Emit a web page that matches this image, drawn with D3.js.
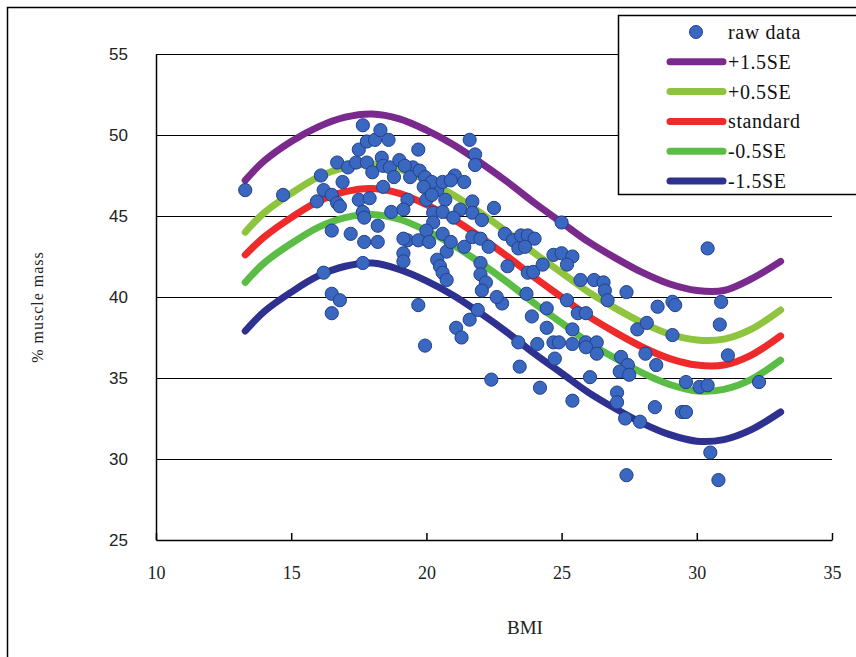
<!DOCTYPE html>
<html>
<head>
<meta charset="utf-8">
<script src="https://cdn.jsdelivr.net/npm/d3@7.9.0/dist/d3.min.js"></script>
<style>
  html, body { margin: 0; padding: 0; background: #fff; }
  svg { display: block; }
</style>
</head>
<body>
<svg id="chart" width="856" height="657"></svg>
<script>
// fitted curves at these BMI values
const curveBmi = [13.3, 14, 15, 16, 17, 18, 19, 20, 21, 22, 23, 24, 25, 26, 27, 28, 29, 30, 31, 32, 33.1];
const plus15 = [47.2, 48.4, 49.6, 50.5, 51.1, 51.3, 51.0, 50.3, 49.4, 48.3, 47.1, 45.8, 44.6, 43.4, 42.4, 41.5, 40.8, 40.4, 40.4, 41.1, 42.2];
const plus05 = [44.0, 45.2, 46.4, 47.4, 48.0, 48.2, 47.9, 47.2, 46.3, 45.2, 44.0, 42.7, 41.5, 40.3, 39.3, 38.4, 37.7, 37.35, 37.4, 38.0, 39.2];
const standard = [42.6, 43.7, 44.9, 45.9, 46.5, 46.7, 46.4, 45.7, 44.8, 43.7, 42.5, 41.2, 40.0, 38.8, 37.8, 36.9, 36.2, 35.8, 35.8, 36.4, 37.6];
const minus05 = [40.9, 42.1, 43.3, 44.3, 44.9, 45.1, 44.8, 44.1, 43.2, 42.1, 40.9, 39.6, 38.4, 37.2, 36.2, 35.3, 34.6, 34.2, 34.3, 34.9, 36.1];
const minus15 = [37.9, 39.1, 40.3, 41.3, 41.9, 42.1, 41.7, 41.0, 40.1, 39.0, 37.8, 36.5, 35.3, 34.1, 33.1, 32.2, 31.5, 31.1, 31.2, 31.8, 32.9];

// raw data: [BMI, % muscle mass]
const rawData = [
  [13.3, 46.6], [14.7, 46.3], [16.1, 47.5], [15.95, 45.9], [16.2, 46.6], [16.5, 44.1], [16.5, 46.3],
  [16.7, 45.8], [16.8, 45.6], [16.7, 48.3], [16.9, 47.1], [17.1, 48.0], [17.2, 43.9], [17.4, 48.3],
  [17.5, 46.0], [17.5, 49.1], [17.65, 50.6], [17.65, 45.25], [17.7, 44.9], [17.65, 42.1], [17.7, 43.4],
  [17.8, 49.6], [17.8, 48.3], [17.9, 46.1], [18.0, 47.7], [18.2, 43.4], [18.2, 44.4], [18.1, 49.7],
  [18.3, 50.3], [18.35, 48.6], [18.4, 46.8], [18.4, 48.1], [18.6, 49.7], [18.65, 48.0], [18.7, 45.25],
  [18.8, 47.4], [16.5, 40.2], [16.8, 39.8], [16.5, 39.0], [16.2, 41.5],
  [19.5, 48.0], [20.0, 46.0], [20.4, 46.6], [20.7, 46.0], [19.3, 43.5], [20.25, 45.2], [19.0, 48.45],
  [21.6, 49.7], [19.7, 49.1], [21.8, 48.8], [21.8, 48.15], [19.2, 48.1], [19.4, 47.4], [19.75, 47.8],
  [19.95, 47.4], [20.2, 47.1], [19.9, 46.8], [20.6, 47.1], [21.05, 47.5], [21.4, 47.1], [20.9, 47.2],
  [20.2, 46.3], [21.7, 45.9], [21.25, 45.4], [22.5, 45.5], [21.7, 45.2], [20.6, 45.25], [21.0, 44.9],
  [22.05, 44.75], [19.3, 46.0], [19.15, 45.4], [20.25, 44.6], [20.0, 44.1], [20.6, 43.9], [19.7, 43.5],
  [19.15, 43.6], [20.1, 43.4], [20.75, 42.8], [20.9, 43.4], [21.4, 43.1], [21.7, 43.7], [22.0, 43.6],
  [22.3, 43.1], [22.9, 43.9], [23.2, 43.5], [23.5, 43.8], [23.75, 43.8], [24.0, 43.6], [23.4, 43.0],
  [23.65, 43.1], [19.15, 42.7], [19.15, 42.2], [20.4, 42.3], [20.5, 41.9], [20.6, 41.5], [20.75, 41.05],
  [22.0, 42.1], [22.0, 41.4], [22.2, 40.9], [22.05, 40.4], [23.0, 41.9], [23.75, 41.5], [23.95, 41.55],
  [24.3, 42.0], [24.7, 42.6], [25.0, 42.7], [25.4, 42.5], [25.2, 42.0], [25.0, 44.6], [25.7, 41.05],
  [26.2, 41.05], [26.55, 40.9], [26.6, 40.4], [26.7, 39.8], [27.4, 40.3], [23.7, 40.2], [25.2, 39.8],
  [25.6, 39.0], [25.9, 39.0], [22.8, 39.6], [22.6, 40.0], [24.45, 39.3], [23.9, 38.8], [19.7, 39.5],
  [21.9, 39.2], [21.6, 38.6], [21.1, 38.1], [21.3, 37.5], [19.95, 37.0], [24.45, 38.1], [25.4, 38.0],
  [25.9, 37.2], [26.3, 37.2], [27.8, 38.0], [23.4, 37.2], [24.1, 37.1], [24.7, 37.2], [24.9, 37.2],
  [25.4, 37.1], [25.9, 36.9],
  [30.4, 43.0], [26.3, 36.5], [24.75, 36.2], [26.05, 35.05], [25.4, 33.6], [27.05, 34.1], [27.05, 33.5],
  [27.2, 36.3], [27.45, 35.8], [27.15, 35.4], [27.5, 35.2], [27.35, 32.5], [27.9, 32.3], [27.4, 29.0],
  [28.15, 38.4], [28.1, 36.5], [28.5, 35.8], [28.55, 39.4], [29.1, 39.7], [29.2, 39.5], [29.1, 37.65],
  [28.45, 33.2], [29.6, 34.75], [30.1, 34.45], [30.4, 34.55], [29.45, 32.9], [29.6, 32.9], [30.5, 30.4],
  [30.8, 28.7], [30.9, 39.7], [30.85, 38.3], [31.15, 36.4], [32.3, 34.75],
  [22.4, 34.9], [24.2, 34.4], [23.45, 35.7]
];

const xTicks = [10, 15, 20, 25, 30, 35];
const yTicks = [25, 30, 35, 40, 45, 50, 55];

const seriesNames = ['+1.5SE', '+0.5SE', 'standard', '-0.5SE', '-1.5SE'];
const seriesValues = [plus15, plus05, standard, minus05, minus15];
const seriesColors = ['#7a2a8c', '#8fc43f', '#ee2a2a', '#5bbd45', '#2e3190'];

const svg = d3.select('#chart');

const x = d3.scaleLinear().domain([10, 35]).range([156, 832]);
const y = d3.scaleLinear().domain([25, 55]).range([540, 54]);

// outer chart frame (runs off the right and bottom of the picture)
svg.append('rect')
  .attr('x', 7.5).attr('y', 7.5)
  .attr('width', 870).attr('height', 670)
  .attr('fill', 'none').attr('stroke', '#000').attr('stroke-width', 1.5);

// gridlines
svg.append('g')
  .attr('shape-rendering', 'crispEdges')
  .selectAll('line')
  .data(yTicks.filter((t) => t > 25))
  .join('line')
  .attr('x1', x(10)).attr('x2', x(35))
  .attr('y1', (d) => Math.round(y(d)) + 0.5).attr('y2', (d) => Math.round(y(d)) + 0.5)
  .attr('stroke', '#000').attr('stroke-width', 1);

// y axis: line only, labels to the left
const yAxis = svg.append('g')
  .attr('transform', `translate(${x(10)},0)`)
  .call(d3.axisLeft(y).tickValues(yTicks).tickSize(0).tickPadding(28));
yAxis.select('.domain').attr('stroke', '#000').attr('stroke-width', 1.5);
yAxis.selectAll('text')
  .attr('font-family', '"Liberation Sans", Arial, sans-serif')
  .attr('font-size', 17)
  .attr('fill', '#222');

// x axis: ticks point up into the plot
const xAxis = svg.append('g')
  .attr('transform', `translate(0,${y(25)})`)
  .call(d3.axisBottom(x).tickValues(xTicks).tickSizeInner(-7).tickSizeOuter(0).tickPadding(26));
xAxis.select('.domain').attr('stroke', '#000').attr('stroke-width', 1.5);
xAxis.selectAll('.tick line').attr('stroke', '#000').attr('stroke-width', 1.5);
xAxis.selectAll('text')
  .attr('font-family', '"Liberation Serif", "Times New Roman", serif')
  .attr('font-size', 18)
  .attr('fill', '#222');

// axis titles
svg.append('text')
  .attr('x', 525).attr('y', 634)
  .attr('text-anchor', 'middle')
  .attr('font-family', '"Liberation Serif", "Times New Roman", serif')
  .attr('font-size', 19)
  .attr('fill', '#222')
  .text('BMI');

svg.append('text')
  .attr('transform', 'translate(43,307) rotate(-90)')
  .attr('text-anchor', 'middle')
  .attr('font-family', '"Liberation Serif", "Times New Roman", serif')
  .attr('font-size', 16)
  .attr('letter-spacing', 1)
  .attr('fill', '#222')
  .text('% muscle mass');

// curves
const line = d3.line()
  .x((d) => x(d[0]))
  .y((d) => y(d[1]))
  .curve(d3.curveCatmullRom.alpha(0.5));

seriesValues.forEach((vals, i) => {
  svg.append('path')
    .attr('d', line(curveBmi.map((b, j) => [b, vals[j]])))
    .attr('fill', 'none')
    .attr('stroke', seriesColors[i])
    .attr('stroke-width', 7)
    .attr('stroke-linecap', 'round');
});

// raw data dots
svg.append('g')
  .selectAll('circle')
  .data(rawData)
  .join('circle')
  .attr('cx', (d) => x(d[0]))
  .attr('cy', (d) => y(d[1]))
  .attr('r', 6.6)
  .attr('fill', '#3a68c0')
  .attr('stroke', '#22418a')
  .attr('stroke-width', 1);

// legend
const legend = svg.append('g');
legend.append('rect')
  .attr('x', 618.5).attr('y', 15.5)
  .attr('width', 260).attr('height', 179)
  .attr('fill', '#fff').attr('stroke', '#000').attr('stroke-width', 1.5);

const rowY = (i) => 32 + i * 29.8;
const legendFont = '"Liberation Serif", "Times New Roman", serif';

legend.append('circle')
  .attr('cx', 696).attr('cy', rowY(0)).attr('r', 6.5)
  .attr('fill', '#3a68c0').attr('stroke', '#22418a');
legend.append('text')
  .attr('x', 728).attr('y', rowY(0) + 7)
  .attr('font-family', legendFont).attr('font-size', 20).attr('letter-spacing', 0.6).attr('fill', '#111')
  .text('raw data');

seriesNames.forEach((name, i) => {
  const ly = rowY(i + 1);
  legend.append('line')
    .attr('x1', 670).attr('x2', 723)
    .attr('y1', ly).attr('y2', ly)
    .attr('stroke', seriesColors[i])
    .attr('stroke-width', 7)
    .attr('stroke-linecap', 'round');
  legend.append('text')
    .attr('x', 728).attr('y', ly + 7)
    .attr('font-family', legendFont).attr('font-size', 20).attr('letter-spacing', 0.6).attr('fill', '#111')
    .text(name);
});
</script>
</body>
</html>
